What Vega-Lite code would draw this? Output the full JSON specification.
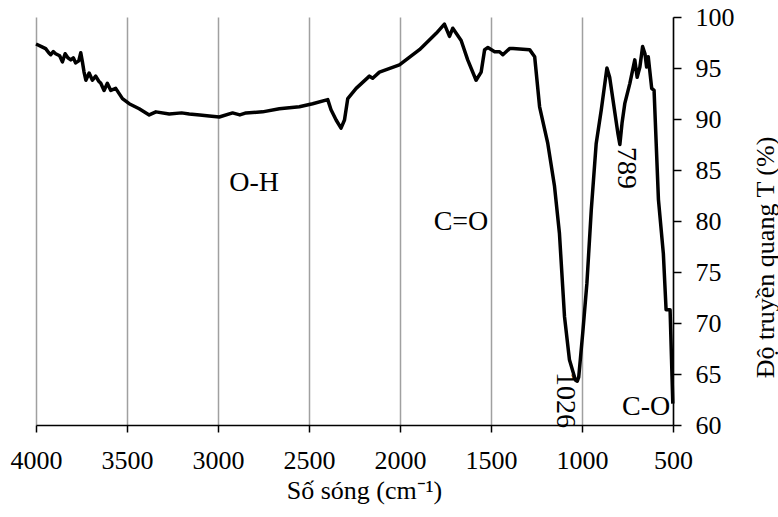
{
  "$schema": "https://vega.github.io/schema/vega-lite/v6.json",
  "width": 637,
  "height": 408,
  "autosize": {"type": "none"},
  "padding": {"left": 36, "top": 17, "right": 105, "bottom": 92},
  "background": "white",
  "config": {
    "view": {"stroke": null},
    "font": "Liberation Serif",
    "axis": {"labelFont": "Liberation Serif", "titleFont": "Liberation Serif"}
  },
  "datasets": {
    "spectrum": [
      {"wn": 4000, "T": 97.35}, {"wn": 3970, "T": 97.1}, {"wn": 3947, "T": 96.9}, {"wn": 3930, "T": 96.5}, {"wn": 3919, "T": 96.3}, {"wn": 3905, "T": 96.6}, {"wn": 3892, "T": 96.4},
      {"wn": 3870, "T": 96.2}, {"wn": 3855, "T": 95.6}, {"wn": 3840, "T": 96.4}, {"wn": 3825, "T": 96.0}, {"wn": 3809, "T": 95.8}, {"wn": 3795, "T": 96.0}, {"wn": 3782, "T": 95.5},
      {"wn": 3765, "T": 95.7}, {"wn": 3754, "T": 96.5}, {"wn": 3745, "T": 95.6}, {"wn": 3736, "T": 94.6}, {"wn": 3726, "T": 93.8}, {"wn": 3708, "T": 94.5},
      {"wn": 3690, "T": 93.8}, {"wn": 3672, "T": 94.2}, {"wn": 3655, "T": 93.7}, {"wn": 3644, "T": 93.5}, {"wn": 3626, "T": 92.8},
      {"wn": 3608, "T": 93.5}, {"wn": 3589, "T": 92.8}, {"wn": 3562, "T": 93.0}, {"wn": 3525, "T": 92.0},
      {"wn": 3488, "T": 91.5}, {"wn": 3433, "T": 91.0}, {"wn": 3378, "T": 90.4}, {"wn": 3341, "T": 90.7},
      {"wn": 3268, "T": 90.5}, {"wn": 3200, "T": 90.6}, {"wn": 3158, "T": 90.5}, {"wn": 3100, "T": 90.4}, {"wn": 3048, "T": 90.3}, {"wn": 2993, "T": 90.2},
      {"wn": 2920, "T": 90.6}, {"wn": 2880, "T": 90.4}, {"wn": 2846, "T": 90.6}, {"wn": 2755, "T": 90.7}, {"wn": 2663, "T": 91.0},
      {"wn": 2553, "T": 91.2}, {"wn": 2480, "T": 91.5}, {"wn": 2397, "T": 91.9}, {"wn": 2379, "T": 90.9},
      {"wn": 2351, "T": 89.9}, {"wn": 2324, "T": 89.1}, {"wn": 2305, "T": 89.9}, {"wn": 2287, "T": 92.0},
      {"wn": 2241, "T": 93.0}, {"wn": 2168, "T": 94.2}, {"wn": 2150, "T": 94.0}, {"wn": 2113, "T": 94.6},
      {"wn": 2003, "T": 95.3}, {"wn": 1893, "T": 96.8}, {"wn": 1801, "T": 98.4}, {"wn": 1756, "T": 99.3},
      {"wn": 1728, "T": 98.1}, {"wn": 1710, "T": 98.9}, {"wn": 1664, "T": 97.7}, {"wn": 1628, "T": 95.8},
      {"wn": 1582, "T": 93.8}, {"wn": 1554, "T": 94.6}, {"wn": 1535, "T": 96.8}, {"wn": 1517, "T": 97.0},
      {"wn": 1480, "T": 96.6}, {"wn": 1453, "T": 96.6}, {"wn": 1435, "T": 96.3}, {"wn": 1398, "T": 96.9},
      {"wn": 1379, "T": 96.9}, {"wn": 1288, "T": 96.8}, {"wn": 1260, "T": 96.1}, {"wn": 1233, "T": 91.2},
      {"wn": 1188, "T": 87.6}, {"wn": 1151, "T": 83.4}, {"wn": 1124, "T": 78.8}, {"wn": 1096, "T": 70.6},
      {"wn": 1069, "T": 66.4}, {"wn": 1036, "T": 64.4}, {"wn": 1026, "T": 64.3}, {"wn": 1018, "T": 64.7},
      {"wn": 996, "T": 69.0}, {"wn": 973, "T": 73.9}, {"wn": 949, "T": 81.1}, {"wn": 922, "T": 87.6},
      {"wn": 894, "T": 90.9}, {"wn": 863, "T": 95.0}, {"wn": 848, "T": 94.1}, {"wn": 802, "T": 88.5},
      {"wn": 792, "T": 87.5}, {"wn": 780, "T": 89.6}, {"wn": 765, "T": 91.5}, {"wn": 737, "T": 93.5},
      {"wn": 710, "T": 95.8}, {"wn": 697, "T": 94.1}, {"wn": 682, "T": 95.1}, {"wn": 667, "T": 97.1},
      {"wn": 654, "T": 96.4}, {"wn": 645, "T": 95.1}, {"wn": 636, "T": 96.1}, {"wn": 617, "T": 93.0},
      {"wn": 604, "T": 92.8}, {"wn": 580, "T": 82.1}, {"wn": 553, "T": 76.8}, {"wn": 538, "T": 71.3},
      {"wn": 516, "T": 71.3}, {"wn": 501, "T": 62.1}
    ],
    "flat": [
      {"label": "O-H", "wn": 2802, "T": 83.7},
      {"label": "C=O", "wn": 1665, "T": 79.9},
      {"label": "C-O", "wn": 648, "T": 61.8}
    ],
    "rotated": [
      {"label": "1026", "wn": 1093, "T": 62.45},
      {"label": "789", "wn": 758, "T": 85.2}
    ]
  },
  "encoding": {
    "x": {
      "field": "wn", "type": "quantitative",
      "scale": {"domain": [500, 4000], "reverse": true, "nice": false, "zero": false},
      "axis": {
        "orient": "bottom", "values": [4000, 3500, 3000, 2500, 2000, 1500, 1000, 500], "format": "d",
        "grid": true, "gridColor": "#a0a0a0", "gridWidth": 1.5,
        "domainColor": "black", "domainWidth": 1.5, "tickColor": "black", "tickWidth": 1.5, "tickSize": 7,
        "labelFont": "Liberation Serif", "labelColor": "black",
        "labelFontSize": 26, "labelPadding": 15, "labelFlush": false, "labelOverlap": false,
        "title": "Số sóng (cm⁻¹)", "titleFont": "Liberation Serif", "titleColor": "black", "titleFontWeight": "normal",
        "titleFontSize": 26, "titleX": 328, "titleY": 73,
        "titleBaseline": "alphabetic", "titleAlign": "center"
      }
    },
    "y": {
      "field": "T", "type": "quantitative",
      "scale": {"domain": [60, 100], "nice": false, "zero": false},
      "axis": {
        "orient": "right", "values": [60, 65, 70, 75, 80, 85, 90, 95, 100], "format": "d", "grid": false,
        "domainColor": "black", "domainWidth": 1.5, "tickColor": "black", "tickWidth": 1.5, "tickSize": 8,
        "labelFont": "Liberation Serif", "labelColor": "black",
        "labelFontSize": 26, "labelPadding": 14, "labelFlush": false, "labelOverlap": false,
        "title": "Độ truyền quang T (%)", "titleFont": "Liberation Serif", "titleColor": "black", "titleFontWeight": "normal",
        "titleFontSize": 26, "titleAngle": 270,
        "titleX": 100, "titleY": 240, "titleBaseline": "alphabetic", "titleAlign": "center"
      }
    }
  },
  "layer": [
    {
      "data": {"name": "spectrum"},
      "mark": {"type": "line", "color": "black", "strokeWidth": 3.5, "strokeJoin": "round"}
    },
    {
      "data": {"name": "flat"},
      "mark": {"type": "text", "font": "Liberation Serif", "fontSize": 28, "align": "center", "baseline": "middle", "color": "black"},
      "encoding": {"text": {"field": "label"}}
    },
    {
      "data": {"name": "rotated"},
      "mark": {"type": "text", "font": "Liberation Serif", "fontSize": 28, "align": "center", "baseline": "middle", "angle": 90, "color": "black"},
      "encoding": {"text": {"field": "label"}}
    }
  ]
}
